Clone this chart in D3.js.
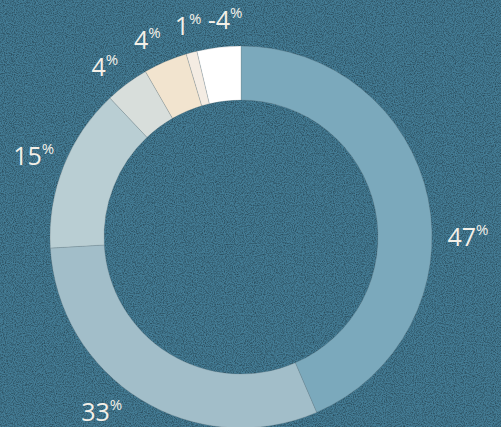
<!DOCTYPE html>
<meta charset="utf-8">
<script src="https://d3js.org/d3.v7.min.js"></script>
<style>
  body { margin: 0; overflow: hidden; }
  svg { display: block; }
</style>
<div id="chart"></div>
<script>

  // data, clockwise from 12 o'clock
  var labels = ['47', '33', '15', '4', '4', '1', '-4'];
  var values = [47, 33, 15, 4, 4, 1, -4];
  var colors = ['#7ba9bc', '#a2bec9', '#b9ced3', '#d8dedb', '#f2e4cf', '#f4ece3', '#ffffff'];

  var width = 501, height = 427;
  var cx = 241, cy = 237;
  var outerR = 191, innerR = 137, labelR = 219;

  // small angle tweaks so labels sit like the original (degrees)
  var labelNudge = [11.5, 7, 0, -1.8, -2, 1, 2.5];
  // bigger labels sit a bit further out
  var labelPush = [8, 4, 4, 0, 0, 0, 0];

  var svg = d3.select("#chart")
    .append("svg")
      .attr("width", width)
      .attr("height", height);

  // grainy background
  var defs = svg.append("defs");
  var f = defs.append("filter")
    .attr("id", "grain")
    .attr("x", 0).attr("y", 0).attr("width", "100%").attr("height", "100%");
  f.append("feTurbulence")
    .attr("type", "fractalNoise")
    .attr("baseFrequency", 0.9)
    .attr("numOctaves", 2)
    .attr("seed", 3)
    .attr("result", "noise");
  f.append("feColorMatrix")
    .attr("in", "noise")
    .attr("type", "matrix")
    .attr("values", "0 0 0 0 0  0 0 0 0 0  0 0 0 0 0  0 0 0 -1.6 1.0")
    .attr("result", "dark");
  f.append("feComposite")
    .attr("in", "dark").attr("in2", "SourceGraphic").attr("operator", "in");

  svg.append("rect")
    .attr("width", width).attr("height", height)
    .attr("fill", "#447c95");
  svg.append("rect")
    .attr("width", width).attr("height", height)
    .attr("fill", "#447c95")
    .attr("opacity", 0.5)
    .attr("filter", "url(#grain)");

  var g = svg.append("g")
    .attr("transform", "translate(" + cx + "," + cy + ")");

  var data = values.map(function(v, i) { return { label: labels[i], value: v, color: colors[i] }; });

  var pie = d3.pie()
    .sort(null)
    .value(function(d) { return Math.abs(d.value); });

  var arc = d3.arc()
    .innerRadius(innerR)
    .outerRadius(outerR);

  var arcs = pie(data);

  g.selectAll("path")
    .data(arcs)
    .enter()
    .append("path")
      .attr("d", arc)
      .attr("fill", function(d) { return d.data.color; })
      .attr("stroke", "rgba(90,100,105,0.25)")
      .attr("stroke-width", 0.8);

  // labels
  var txt = g.selectAll("text.lbl")
    .data(arcs)
    .enter()
    .append("text")
      .attr("class", "lbl")
      .attr("text-anchor", "middle")
      .attr("dominant-baseline", "central")
      .attr("font-family", "'Open Sans', 'Noto Sans', sans-serif")
      .attr("fill", "#f4f0e8")
      .attr("transform", function(d, i) {
        var a = (d.startAngle + d.endAngle) / 2 + labelNudge[i] * Math.PI / 180;
        var r = labelR + labelPush[i];
        return "translate(" + (r * Math.sin(a)) + "," + (-r * Math.cos(a)) + ")";
      });

  txt.append("tspan")
    .attr("font-size", 25)
    .text(function(d) { return d.data.label; });
  txt.append("tspan")
    .attr("font-size", 15)
    .attr("dy", -7)
    .text("%");

</script>
